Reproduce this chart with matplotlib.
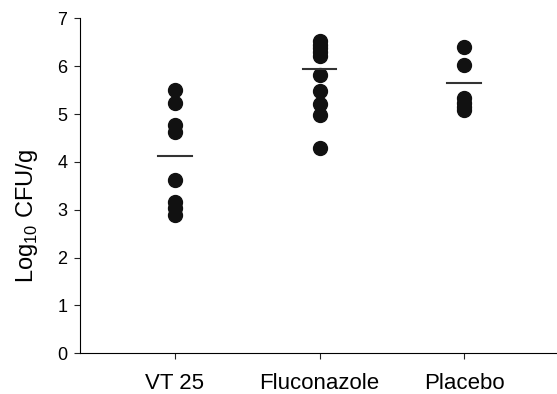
import matplotlib.pyplot as plt
import numpy as np

plt.rcParams['font.family'] = ['Liberation Sans', 'DejaVu Sans']
plt.rcParams['mathtext.fontset'] = 'custom'
plt.rcParams['mathtext.rm'] = 'Liberation Sans'

groups = ['VT 25', 'Fluconazole', 'Placebo']
vt25 = [5.50, 5.24, 4.77, 4.62, 3.62, 3.17, 3.03, 2.89]
fluconazole = [6.53, 6.45, 6.37, 6.29, 6.21, 5.81, 5.48, 5.21, 4.98, 4.30]
placebo = [6.39, 6.02, 5.34, 5.24, 5.15, 5.09]
means = [4.13, 5.94, 5.64]

fig = plt.figure(figsize=(5.57, 3.94), dpi=100)
ax = fig.add_axes([0.1436, 0.1033, 0.855, 0.8503])

for i, vals in enumerate([vt25, fluconazole, placebo]):
    x = np.full(len(vals), i + 1)
    ax.plot(x, vals, 'o', color='#111111', markersize=10, linestyle='none')
    ax.plot([i + 1 - 0.115, i + 1 + 0.115], [means[i], means[i]],
            color='#333333', linewidth=1.5)

ax.set_xlim(0.343, 3.637)
ax.set_ylim(0, 7)
ax.set_xticks([1, 2, 3])
ax.set_xticklabels(groups, fontsize=16)
ax.set_yticks(range(0, 8))
ax.tick_params(axis='y', labelsize=13, length=4, pad=5, direction='out', color='#222222')
ax.tick_params(axis='x', length=4, direction='out', pad=10, color='#222222')
ax.spines['top'].set_visible(False)
ax.spines['right'].set_visible(False)
ax.set_ylabel('Log$_{\\mathrm{10}}$ CFU/g', fontsize=17)
ax.yaxis.set_label_coords(-0.085, 0.41)

fig.savefig('out.png', dpi=100)
